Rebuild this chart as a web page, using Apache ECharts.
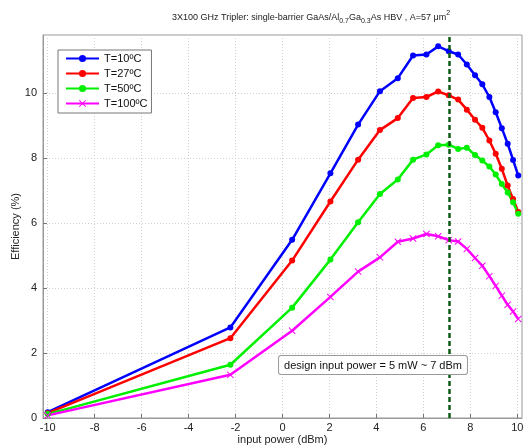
<!DOCTYPE html>
<html><head><meta charset="utf-8">
<script src="https://cdn.jsdelivr.net/npm/echarts@6/dist/echarts.min.js"></script>
<style>html,body{margin:0;padding:0;background:#fff}#c{width:528px;height:448px}</style>
</head><body><div id="c"></div>
<script>
// input power (dBm)
const inputPower = [-10, -2.22, 0.41, 2.04, 3.22, 4.15, 4.91, 5.56, 6.13, 6.63, 7.08, 7.48, 7.85, 8.2, 8.51, 8.81, 9.08, 9.34, 9.59, 9.82, 10.04];
// efficiency (%)
const effT10  = [0.18, 2.79, 5.49, 7.54, 9.04, 10.07, 10.47, 11.17, 11.2, 11.45, 11.3, 11.2, 10.89, 10.56, 10.28, 9.89, 9.42, 8.93, 8.45, 7.95, 7.47];
const effT27  = [0.15, 2.46, 4.85, 6.67, 7.96, 8.87, 9.24, 9.86, 9.89, 10.06, 9.94, 9.81, 9.5, 9.19, 8.94, 8.55, 8.14, 7.68, 7.16, 6.75, 6.35];
const effT50  = [0.12, 1.64, 3.4, 4.88, 6.03, 6.9, 7.35, 7.96, 8.12, 8.4, 8.42, 8.29, 8.33, 8.1, 7.93, 7.75, 7.5, 7.21, 6.95, 6.65, 6.29];
const effT100 = [0.08, 1.33, 2.69, 3.73, 4.51, 4.95, 5.43, 5.53, 5.67, 5.6, 5.48, 5.44, 5.21, 4.93, 4.69, 4.37, 4.07, 3.77, 3.49, 3.28, 3.05];
const seriesNames = ['T=10ºC', 'T=27ºC', 'T=50ºC', 'T=100ºC'];
const xTicks = [-10, -8, -6, -4, -2, 0, 2, 4, 6, 8, 10];
const yTicks = [0, 2, 4, 6, 8, 10];
const designPower = 7.1;
const annotationText = 'design input power = 5 mW ~ 7 dBm';
const annotationAnchor = [-0.19, 1.94];

const zip = ys => inputPower.map((x, i) => [x, ys[i]]);
const xShape = 'path://M0,1L1,0L5,4L9,0L10,1L6,5L10,9L9,10L5,6L1,10L0,9L4,5Z';
const font = 'Liberation Sans, Arial, sans-serif';

const chart = echarts.init(document.getElementById('c'), null, {renderer: 'canvas'});
function mk(name, ys, color, symbol, size) {
  return {
    name, type: 'line', data: zip(ys), symbol: symbol, symbolSize: size,
    showSymbol: true, lineStyle: {color, width: 2.5}, itemStyle: {color},
    animation: false, z: 3
  };
}
const s = [
  mk(seriesNames[0], effT10, '#0000ff', 'circle', 6),
  mk(seriesNames[1], effT27, '#ff0000', 'circle', 6),
  mk(seriesNames[2], effT50, '#00f000', 'circle', 6),
  mk(seriesNames[3], effT100, '#ff00ff', xShape, 7)
];
s[0].markLine = {
  silent: true, symbol: ['none', 'none'], label: {show: false}, animation: false,
  lineStyle: {color: '#0e5c14', type: [5, 3], width: 2.5},
  data: [{xAxis: designPower}]
};
chart.setOption({
  animation: false,
  backgroundColor: '#fff',
  title: {
    text: '3X100 GHz Tripler: single-barrier GaAs/Al{sub|0.7}Ga{sub|0.3}As HBV , A=57 μm{sup|2}',
    left: 167, top: 5,
    textStyle: {
      fontFamily: font, fontSize: 9, fontWeight: 'normal', color: '#222', lineHeight: 15,
      rich: {
        sub: {fontFamily: font, fontSize: 7, color: '#222', lineHeight: 8, verticalAlign: 'bottom'},
        sup: {fontFamily: font, fontSize: 7, color: '#222', lineHeight: 8, verticalAlign: 'top'}
      }
    }
  },
  legend: {
    orient: 'vertical', left: 58, top: 50,
    itemWidth: 33, itemHeight: 9, itemGap: 4,
    padding: [3, 4, 4, 7],
    borderColor: '#777', borderWidth: 1, backgroundColor: '#fff',
    textStyle: {fontFamily: font, fontSize: 11, color: '#111'},
    data: seriesNames
  },
  grid: {left: 43, right: 6, top: 35, bottom: 30, show: true, borderColor: '#999', borderWidth: 1,
    backgroundColor: '#fff', containLabel: false, outerBoundsMode: 'none'},
  xAxis: {
    type: 'value', min: -10.2, max: 10.2,
    name: 'input power (dBm)', nameLocation: 'middle', nameGap: 16, nameMoveOverlap: false,
    nameTextStyle: {fontFamily: font, fontSize: 11, color: '#222'},
    axisLine: {show: true, onZero: false, lineStyle: {color: '#999', width: 1}},
    axisTick: {show: true, inside: true, length: 4, customValues: xTicks, lineStyle: {color: '#777'}},
    axisLabel: {customValues: xTicks, fontFamily: font, fontSize: 11, color: '#222', margin: 4},
    splitLine: {show: true, lineStyle: {color: '#d0d0d0', type: [1, 2], width: 1}}
  },
  yAxis: {
    type: 'value', min: 0, max: 11.8,
    name: 'Efficiency (%)', nameLocation: 'middle', nameGap: 22, nameMoveOverlap: false,
    nameTextStyle: {fontFamily: font, fontSize: 11, color: '#222'},
    axisLine: {show: true, onZero: false, lineStyle: {color: '#999', width: 1}},
    axisTick: {show: true, inside: true, length: 4, customValues: yTicks, lineStyle: {color: '#777'}},
    axisLabel: {customValues: yTicks, fontFamily: font, fontSize: 11, color: '#222', margin: 6},
    splitLine: {show: true, lineStyle: {color: '#d0d0d0', type: [1, 2], width: 1}}
  },
  series: s
});
const p = chart.convertToPixel({gridIndex: 0}, annotationAnchor);
chart.setOption({
  graphic: [{
    type: 'text', left: p[0], top: p[1], z: 10,
    style: {
      text: annotationText, fontFamily: font, fontSize: 11, fill: '#111',
      backgroundColor: '#fff', borderColor: '#999', borderWidth: 1, borderRadius: 2,
      padding: [4, 5, 3, 5]
    }
  }]
});
</script></body></html>
